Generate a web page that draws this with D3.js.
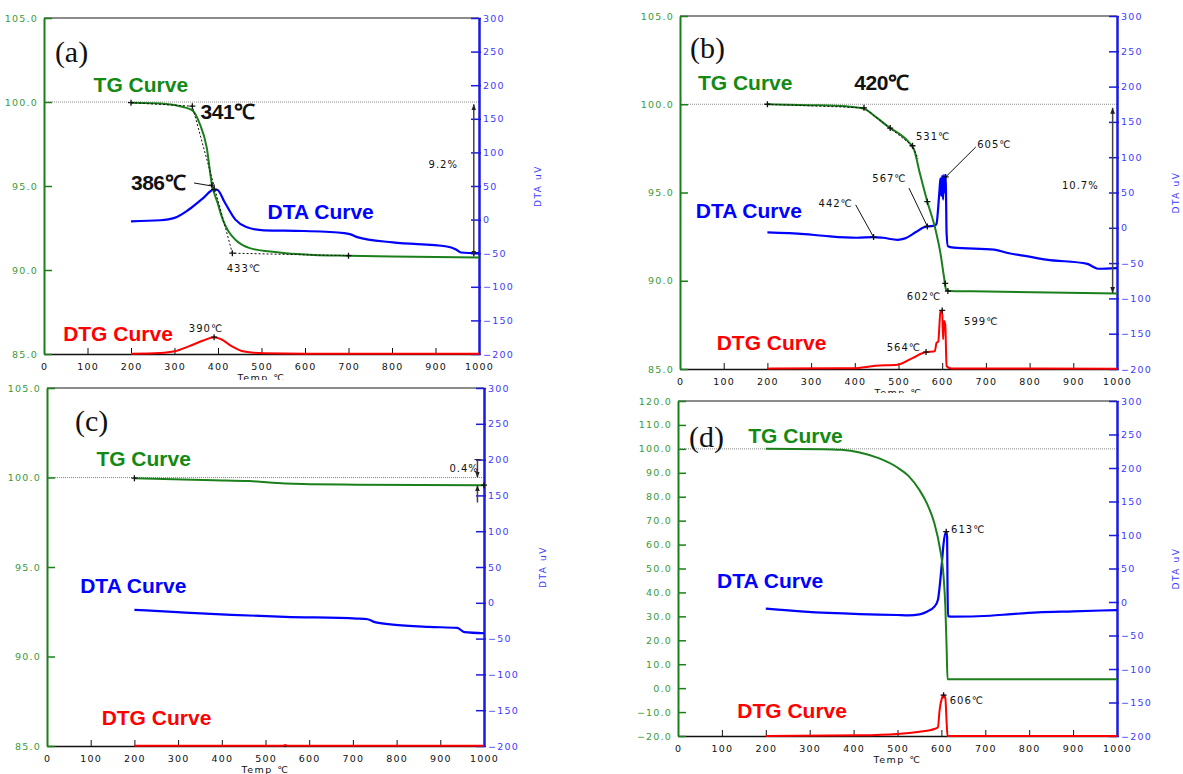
<!DOCTYPE html>
<html>
<head>
<meta charset="utf-8">
<script src="https://cdn.jsdelivr.net/npm/d3@7"></script>
<style>
  body { margin: 0; background: #fff; }
  text { font-family: "DejaVu Sans", sans-serif; }
</style>
</head>
<body>
<script>
// tick values
var tempTicks = [0, 100, 200, 300, 400, 500, 600, 700, 800, 900, 1000];
var tgTicks = [85, 90, 95, 100, 105];
var tgTicksD = [-20, -10, 0, 10, 20, 30, 40, 50, 60, 70, 80, 90, 100, 110, 120];
var dtaTicks = [-200, -150, -100, -50, 0, 50, 100, 150, 200, 250, 300];

// (a)  [temp C, value]
var tgA = [[200,99.96],[250,99.93],[300,99.82],[320,99.7],[341,99.5],[358,98.7],[374,97.3],[386,95.1],[399,94.0],[411,93.0],[424,92.3],[440,91.8],[473,91.3],[520,91.1],[556,91.0],[620,90.9],[700,90.85],[800,90.8],[1000,90.75]];
var dtaA = [[200,-2.5],[267,-1],[300,2.5],[333,15],[366,32],[391,45],[399,44],[416,25],[440,0],[465,-11],[506,-16],[597,-17],[690,-20],[705,-22],[720,-26],[802,-34],[926,-40],[946,-44],[959,-49],[1000,-50]];
var dtgA = [[200,-199.5],[267,-198.5],[300,-196],[333,-188.6],[366,-180],[391,-175],[407,-178],[432,-188.6],[457,-196],[506,-199],[600,-199.5],[1000,-199.5]];

// (b)
var tgB = [[200,100.0],[300,99.95],[380,99.88],[421,99.75],[447,99.3],[481,98.65],[506,98.25],[523,97.87],[536,97.4],[549,96.07],[566,94.48],[583,93.06],[596,91.55],[604,90.24],[609,89.5],[617,89.42],[668,89.4],[1000,89.28]];
var dtaB = [[200,-6.6],[285,-9],[328,-11.3],[404,-14.1],[443,-13.2],[464,-14.1],[498,-17],[515,-15],[540,-6],[557,0.5],[566,2],[583,3],[587,5.6],[591,30],[594,55],[596,70],[598,45],[600,74],[602,40],[604,75],[606,50],[608,74],[609,35],[610,-7],[613,-26],[626,-28],[719,-31],[753,-36],[796,-40.5],[838,-45],[932,-51],[945,-55],[957,-58],[1000,-57]];
var dtgB = [[200,-199.5],[362,-199],[396,-199],[447,-195.5],[498,-194],[532,-184.5],[563,-176],[583,-175],[587,-163],[591,-161],[596,-118.6],[600,-117],[602,-158],[604,-132],[607,-137],[610,-196],[621,-199.3],[1000,-199.5]];

// (c)
var tgC = [[200,99.96],[381,99.85],[463,99.8],[545,99.66],[586,99.63],[709,99.6],[1000,99.57]];
var dtaC = [[200,-9.8],[298,-13],[422,-16.8],[545,-19.6],[709,-22],[734,-23],[750,-27],[791,-30.4],[873,-33.6],[939,-35],[955,-41],[1000,-42.5]];
var dtgC = [[200,-199.5],[540,-199.5],[545,-198.5],[550,-199.5],[1000,-199.5]];

// (d)
var tgD = [[200,100],[330,99.86],[372,99.6],[414,98.5],[457,96.1],[499,92.3],[525,88.7],[550,82.8],[567,77.2],[584,68.9],[596,59.1],[605,46.6],[609,34],[612,16],[614,3.7],[668,3.7],[1000,3.7]];
var dtaD = [[200,-10],[288,-14.4],[414,-18],[499,-19.4],[525,-20],[550,-18.4],[567,-14.4],[584,-7],[592,3],[596,23],[601,57.7],[605,87.5],[611,105],[613,97.5],[614,18],[615,-21],[626,-21.9],[711,-20.5],[760,-18],[820,-15.5],[900,-14],[1000,-12]];
var dtgD = [[200,-200],[414,-199],[499,-197],[550,-193.5],[584,-189.5],[592,-187],[596,-161],[601,-143.8],[605,-138.8],[609,-143.8],[612,-181],[614,-200],[1000,-200]];

// curve name / panel id positions, in [temp, TG value]
var namesA = {id:[25,102.4], tg:[114,100.6], dta:[514,93.04], dtg:[44,85.77]};
var namesB = {id:[23,102.6], tg:[41,100.81], dta:[36,93.56], dtg:[84,86.08]};
var namesC = {id:[64,102.6], tg:[113,100.63], dta:[76,93.52], dtg:[125,86.18]};
var namesD = {id:[25,100.8], tg:[160,102.45], dta:[89,41.9], dtg:[135,-12.5]};

// annotations
var notesA = {
  dashed: [[200,99.96],[341,99.75],[433,91.0],[700,90.85]],
  marks: [[200,99.96,"tg"],[341,99.75,"tg"],[386,95.05,"tg"],[433,91.0,"tg"],[700,90.85,"tg"],[391,-175,"dta"],[391,45,"dta"]],
  leaders: [[[345,95.18,"tg"],[386,95.0,"tg"]]],
  texts: [{t:360,v:99.0,s:"341℃",big:true},{t:200,v:94.76,s:"386℃",big:true},{t:420,v:89.88,s:"433℃"},{t:333,v:86.3,s:"390℃"},{t:884,v:96.07,s:"9.2%"}],
  arrows: [{t:988,from:99.86,to:90.8,both:true}],
  bars: []
};
var notesB = {
  dashed: [[200,100.0],[421,99.8],[532,97.65],[545,96.9]],
  marks: [[200,100,"tg"],[421,99.8,"tg"],[481,98.65,"tg"],[532,97.65,"tg"],[566,94.48,"tg"],[607,89.85,"tg"],[613,89.42,"tg"],[443,-13.2,"dta"],[566,2,"dta"],[608,72,"dta"],[563,-176,"dta"],[600,-117,"dta"]],
  leaders: [[[402,94.3,"tg"],[443,-13.2,"dta"]],[[524,95.25,"tg"],[566,2,"dta"]],[[677,97.58,"tg"],[608,72,"dta"]]],
  texts: [{t:399,v:100.81,s:"420℃",big:true},{t:540,v:97.97,s:"531℃"},{t:440,v:95.6,s:"567℃"},{t:317,v:94.18,s:"442℃"},{t:680,v:97.52,s:"605℃"},{t:519,v:88.9,s:"602℃"},{t:650,v:87.49,s:"599℃"},{t:473,v:86.02,s:"564℃"},{t:874,v:95.2,s:"10.7%"}],
  arrows: [{t:990,from:99.8,to:89.3,both:true}],
  bars: []
};
var notesC = {
  dashed: [],
  marks: [[200,99.96,"tg"],[1000,99.57,"tg"]],
  leaders: [],
  texts: [{t:921,v:100.29,s:"0.4%"}],
  arrows: [{t:985,from:101.0,to:100.0},{t:985,from:98.6,to:99.57}],
  bars: [[978,993,101.0]]
};
var notesD = {
  dashed: [],
  marks: [[611,105,"dta"],[605,-139,"dta"]],
  leaders: [],
  texts: [{t:622,v:64.8,s:"613℃"},{t:619,v:-6.6,s:"606℃"}],
  arrows: [],
  bars: []
};

var panels = [
  {id:"(a)", box:{x0:44,x1:479,y0:18,y1:354}, tgDomain:[85,105], tgTicks:tgTicks, tg:tgA, dta:dtaA, dtg:dtgA, names:namesA, notes:notesA, bg:false},
  {id:"(b)", box:{x0:680,x1:1117,y0:16,y1:369}, tgDomain:[85,105], tgTicks:tgTicks, tg:tgB, dta:dtaB, dtg:dtgB, names:namesB, notes:notesB, bg:false},
  {id:"(c)", box:{x0:47,x1:484,y0:388,y1:746}, tgDomain:[85,105], tgTicks:tgTicks, tg:tgC, dta:dtaC, dtg:dtgC, names:namesC, notes:notesC, bg:true},
  {id:"(d)", box:{x0:678,x1:1117,y0:401,y1:736}, tgDomain:[-20,120], tgTicks:tgTicksD, tg:tgD, dta:dtaD, dtg:dtgD, names:namesD, notes:notesD, bg:true}
];

var green = "#1b7f1b", greenLbl = "#3a9a3a", greenName = "#138a13";
var blue = "#0000ff", blueLbl = "#3b3bff", red = "#ff0000";

var svg = d3.select("body").append("svg")
    .attr("width", 1183)
    .attr("height", 774);

svg.append("defs").append("marker")
    .attr("id", "arr")
    .attr("viewBox", "0 0 10 10")
    .attr("refX", 10).attr("refY", 5)
    .attr("markerWidth", 6).attr("markerHeight", 6)
    .attr("markerUnits", "userSpaceOnUse")
    .attr("orient", "auto-start-reverse")
  .append("path")
    .attr("d", "M0,1L10,5L0,9z")
    .attr("fill", "#222");

panels.forEach(drawPanel);

function drawPanel(p) {
  var b = p.box;
  var g = svg.append("g");

  if (p.bg) {
    g.append("rect")
      .attr("x", b.x0 - 47).attr("y", b.y0 - 8)
      .attr("width", b.x1 - b.x0 + 112).attr("height", 774 - b.y0 + 8)
      .attr("fill", "#fff");
  }

  var x = d3.scaleLinear().domain([0, 1000]).range([b.x0, b.x1]);
  var yTG = d3.scaleLinear().domain(p.tgDomain).range([b.y1, b.y0]);
  var yDTA = d3.scaleLinear().domain([-200, 300]).range([b.y1, b.y0]);
  var yOf = function(d) { return d[2] == "dta" ? yDTA(d[1]) : yTG(d[1]); };

  // dotted 100% reference line
  g.append("line")
    .attr("x1", b.x0).attr("x2", b.x1)
    .attr("y1", yTG(100)).attr("y2", yTG(100))
    .attr("stroke", "#8a8a8a").attr("stroke-width", 1)
    .attr("stroke-dasharray", "1,1");

  // top border
  g.append("line")
    .attr("x1", b.x0).attr("x2", b.x1)
    .attr("y1", b.y0).attr("y2", b.y0)
    .attr("stroke", "#666").attr("stroke-width", 1.5);

  // bottom axis
  var xa = g.append("g")
      .attr("transform", "translate(0," + b.y1 + ")")
      .call(d3.axisBottom(x).tickValues(tempTicks).tickSizeInner(-6).tickSizeOuter(0).tickPadding(9.5)
        .tickFormat(d3.format("d")));
  xa.select(".domain").attr("stroke", "#111").attr("stroke-width", 1.5);
  xa.selectAll(".tick line").attr("stroke", "#111");
  xa.selectAll(".tick text").attr("fill", "#111")
      .style("font-size", "9.5px").style("letter-spacing", "1.2px");

  g.append("text")
    .attr("x", (b.x0 + b.x1) / 2).attr("y", b.y1 + 27)
    .attr("text-anchor", "middle")
    .style("font-size", "9.5px").style("letter-spacing", "1.5px")
    .attr("fill", "#111")
    .text("Temp ℃");

  // left TG axis
  var ya = g.append("g")
      .attr("transform", "translate(" + b.x0 + ",0)")
      .call(d3.axisLeft(yTG).tickValues(p.tgTicks).tickSizeInner(-8).tickSizeOuter(0).tickPadding(6)
        .tickFormat(d3.format(".1f")));
  ya.select(".domain").attr("stroke", green).attr("stroke-width", 2);
  ya.selectAll(".tick line").attr("stroke", green).attr("stroke-width", 1.5);
  ya.selectAll(".tick text").attr("fill", greenLbl)
      .style("font-size", "9.5px").style("letter-spacing", "1.2px");

  // right DTA axis
  var ra = g.append("g")
      .attr("transform", "translate(" + b.x1 + ",0)")
      .call(d3.axisRight(yDTA).tickValues(dtaTicks).tickSizeInner(2).tickSizeOuter(0).tickPadding(2));
  ra.select(".domain").attr("stroke", "#1a1ae0").attr("stroke-width", 2.5);
  ra.selectAll(".tick line").attr("x1", -8).attr("stroke", "#1a1ae0").attr("stroke-width", 1.5);
  ra.selectAll(".tick text").attr("fill", blueLbl)
      .style("font-size", "9.5px").style("letter-spacing", "1.2px");

  g.append("text")
    .attr("transform", "translate(" + (b.x1 + 62) + "," + ((b.y0 + b.y1) / 2) + ") rotate(-90)")
    .attr("text-anchor", "middle")
    .style("font-size", "9px").style("letter-spacing", "1.6px")
    .attr("fill", blueLbl)
    .text("DTA uV");

  // curves
  var lineTG = d3.line().x(function(d) { return x(d[0]); }).y(function(d) { return yTG(d[1]); }).curve(d3.curveMonotoneX);
  var lineDTA = d3.line().x(function(d) { return x(d[0]); }).y(function(d) { return yDTA(d[1]); }).curve(d3.curveMonotoneX);

  g.append("path").datum(p.dtg).attr("d", lineDTA)
    .attr("fill", "none").attr("stroke", red).attr("stroke-width", 2);
  g.append("path").datum(p.dta).attr("d", lineDTA)
    .attr("fill", "none").attr("stroke", blue).attr("stroke-width", 2.2);
  g.append("path").datum(p.tg).attr("d", lineTG)
    .attr("fill", "none").attr("stroke", green).attr("stroke-width", 2);

  // annotations
  var n = p.notes;
  if (n.dashed.length) {
    g.append("path").datum(n.dashed)
      .attr("d", d3.line().x(function(d) { return x(d[0]); }).y(function(d) { return yTG(d[1]); }))
      .attr("fill", "none").attr("stroke", "#111").attr("stroke-width", 1)
      .attr("stroke-dasharray", "2,2");
  }
  n.leaders.forEach(function(l) {
    g.append("line")
      .attr("x1", x(l[0][0])).attr("y1", yOf(l[0]))
      .attr("x2", x(l[1][0])).attr("y2", yOf(l[1]))
      .attr("stroke", "#111").attr("stroke-width", 1);
  });
  n.arrows.forEach(function(a) {
    var ln = g.append("line")
      .attr("x1", x(a.t)).attr("x2", x(a.t))
      .attr("y1", yTG(a.from)).attr("y2", yTG(a.to))
      .attr("stroke", "#444").attr("stroke-width", 1.5)
      .attr("marker-end", "url(#arr)");
    if (a.both) ln.attr("marker-start", "url(#arr)");
  });
  n.bars.forEach(function(r) {
    g.append("line")
      .attr("x1", x(r[0])).attr("x2", x(r[1]))
      .attr("y1", yTG(r[2])).attr("y2", yTG(r[2]))
      .attr("stroke", "#222").attr("stroke-width", 1);
  });
  g.selectAll(".mark").data(n.marks).enter().append("path")
    .attr("class", "mark")
    .attr("transform", function(d) { return "translate(" + x(d[0]) + "," + yOf(d) + ")"; })
    .attr("d", "M-3,0H3M0,-3V3")
    .attr("stroke", "#111").attr("stroke-width", 1.3);
  n.texts.forEach(function(t) {
    g.append("text")
      .attr("x", x(t.t)).attr("y", yTG(t.v))
      .attr("fill", "#111")
      .style("font-family", t.big ? "'Liberation Sans', Arial, sans-serif" : null)
      .style("font-weight", t.big ? "bold" : null)
      .style("font-size", t.big ? "21px" : "10px")
      .style("letter-spacing", t.big ? "-0.5px" : "1px")
      .text(t.s);
  });

  // curve names
  var nm = p.names;
  var name = function(pos, s, col) {
    g.append("text")
      .attr("x", x(pos[0])).attr("y", yTG(pos[1]))
      .attr("fill", col)
      .style("font-family", "'Liberation Sans', Arial, sans-serif")
      .style("font-weight", "bold")
      .style("font-size", "21px")
      .text(s);
  };
  name(nm.tg, "TG Curve", greenName);
  name(nm.dta, "DTA Curve", blue);
  name(nm.dtg, "DTG Curve", red);
  g.append("text")
    .attr("x", x(nm.id[0])).attr("y", yTG(nm.id[1]))
    .style("font-family", "'Liberation Serif', 'Times New Roman', serif")
    .style("font-size", "30px")
    .attr("fill", "#111")
    .text(p.id);
}
</script>
</body>
</html>
